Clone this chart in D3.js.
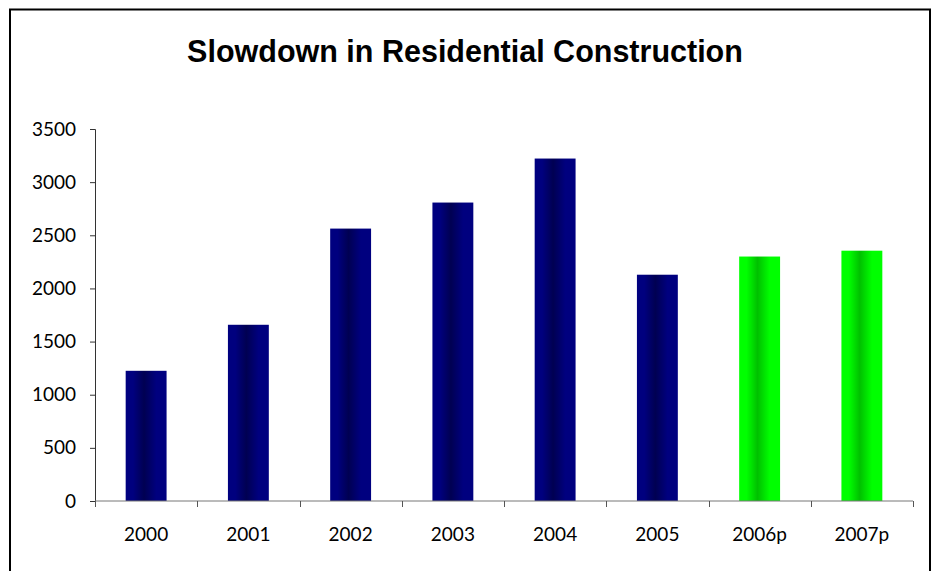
<!DOCTYPE html>
<html>
<head>
<meta charset="utf-8">
<script src="https://cdn.jsdelivr.net/npm/d3@7"></script>
<style>
  body { margin: 0; background: #fff; }
  .axis text { font-family: Lato, 'Open Sans', sans-serif; font-size: 19px; fill: #000; }
</style>
</head>
<body>
<svg id="chart" width="935" height="571"></svg>
<script>
var years = ['2000', '2001', '2002', '2003', '2004', '2005', '2006p', '2007p'];
var starts = [1225, 1658, 2563, 2808, 3222, 2129, 2300, 2355];
var projected = [false, false, false, false, false, false, true, true];
var yTicks = [0, 500, 1000, 1500, 2000, 2500, 3000, 3500];

var margin = {top: 129, right: 22, bottom: 70, left: 95};
var width = 935 - margin.left - margin.right;
var height = 571 - margin.top - margin.bottom;

var svg = d3.select('#chart');

// outer frame
svg.append('rect')
  .attr('x', 10).attr('y', 9.5)
  .attr('width', 920).attr('height', 600)
  .attr('fill', 'none')
  .attr('stroke', '#000')
  .attr('stroke-width', 2);

svg.append('text')
  .attr('x', 465).attr('y', 62)
  .attr('text-anchor', 'middle')
  .attr('font-family', 'Liberation Sans, Arial, sans-serif')
  .attr('font-weight', 'bold')
  .attr('font-size', '30.5px')
  .text('Slowdown in Residential Construction');

var defs = svg.append('defs');
function addGrad(id, edge, mid) {
  var g = defs.append('linearGradient').attr('id', id)
    .attr('x1', '0%').attr('x2', '100%').attr('y1', '0%').attr('y2', '0%');
  g.append('stop').attr('offset', '0%').attr('stop-color', edge);
  g.append('stop').attr('offset', '18%').attr('stop-color', edge);
  g.append('stop').attr('offset', '45%').attr('stop-color', mid);
  g.append('stop').attr('offset', '75%').attr('stop-color', edge);
  g.append('stop').attr('offset', '100%').attr('stop-color', edge);
}
addGrad('navyGrad', '#00007f', '#000052');
addGrad('greenGrad', '#00ff00', '#00c000');

var g = svg.append('g')
  .attr('transform', 'translate(' + margin.left + ',' + margin.top + ')');

var x = d3.scaleBand()
  .domain(years)
  .range([0, width])
  .paddingInner(0.6)
  .paddingOuter(0.3);
var y = d3.scaleLinear()
  .domain([0, 3500])
  .range([height, 0]);

g.selectAll('.bar')
  .data(years)
  .enter()
  .append('rect')
  .attr('class', 'bar')
  .attr('x', function (d) { return x(d); })
  .attr('width', x.bandwidth())
  .attr('y', function (d, i) { return y(starts[i]); })
  .attr('height', function (d, i) { return height - y(starts[i]); })
  .attr('fill', function (d, i) { return projected[i] ? 'url(#greenGrad)' : 'url(#navyGrad)'; });

// y axis
var yAxis = d3.axisLeft(y)
  .tickValues(yTicks)
  .tickFormat(d3.format('d'))
  .tickSize(5)
  .tickPadding(14);
var ya = g.append('g').attr('class', 'axis').call(yAxis);
ya.select('.domain').attr('stroke', '#333');
ya.selectAll('.tick line').attr('stroke', '#333');

// x axis labels
var xAxis = d3.axisBottom(x).tickSize(0).tickPadding(27);
var xa = g.append('g').attr('class', 'axis')
  .attr('transform', 'translate(0,' + height + ')')
  .call(xAxis);
xa.select('.domain').remove();

// x axis line and category boundary ticks
xa.append('line')
  .attr('x1', 0).attr('x2', width)
  .attr('stroke', '#777');
xa.selectAll('.bound')
  .data(d3.range(years.length + 1))
  .enter()
  .append('line')
  .attr('class', 'bound')
  .attr('x1', function (i) { return Math.round(i * x.step()) + 0.5; })
  .attr('x2', function (i) { return Math.round(i * x.step()) + 0.5; })
  .attr('y1', 0).attr('y2', 6)
  .attr('stroke', '#555');
</script>
</body>
</html>
